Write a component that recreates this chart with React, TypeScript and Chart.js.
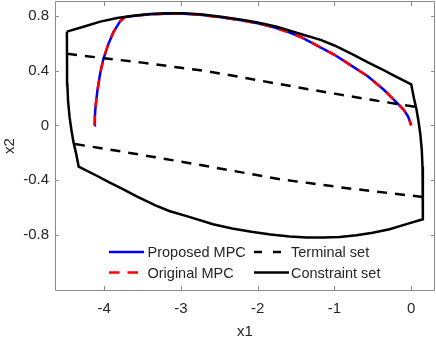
import React, { useEffect, useRef } from "react";
import { Chart, registerables } from "chart.js";

Chart.register(...registerables);

// ---------- data ----------
const xTicks = [-4, -3, -2, -1, 0];
const yTicks = [-0.8, -0.4, 0, 0.4, 0.8];
const xLimits = [-4.64, 0.31];
const yLimits = [-1.2, 0.9];

const legendLabels = ["Proposed MPC", "Original MPC", "Terminal set", "Constraint set"];

// Constraint set (closed boundary): top, right side, bottom, left side
const constraintX = [
  -4.485, -4.27, -4.05, -3.83, -3.62, -3.4, -3.19, -2.97, -2.75, -2.5, -2.25, -2.0, -1.75, -1.44, -1.18, -1.0, -0.75, -0.57, -0.4, -0.23, 0.0,
  0.035, 0.068, 0.095, 0.118, 0.138, 0.147, 0.151, 0.153,
  -0.062, -0.282, -0.502, -0.712, -0.932, -1.142, -1.362, -1.582, -1.832, -2.082, -2.332, -2.582, -2.892, -3.152, -3.332, -3.582, -3.762, -3.932, -4.102, -4.332,
  -4.367, -4.4, -4.427, -4.45, -4.47, -4.479, -4.483, -4.485,
];
const constraintY = [
  0.684, 0.72, 0.757, 0.783, 0.8, 0.813, 0.818, 0.818, 0.81, 0.795, 0.775, 0.751, 0.72, 0.667, 0.624, 0.583, 0.515, 0.462, 0.415, 0.365, 0.3,
  0.2, 0.12, 0.03, -0.06, -0.18, -0.3, -0.45, -0.684,
  -0.72, -0.757, -0.783, -0.8, -0.813, -0.818, -0.818, -0.81, -0.795, -0.775, -0.751, -0.72, -0.667, -0.624, -0.583, -0.515, -0.462, -0.415, -0.365, -0.3,
  -0.2, -0.12, -0.03, 0.06, 0.18, 0.3, 0.45, 0.684,
];

// Terminal set (two dashed edges)
const terminalUpperX = [-4.483, -4.0, -3.5, -3.0, -2.66, -2.0, -1.5, -1.0, -0.5, 0.055];
const terminalUpperY = [0.522, 0.49, 0.458, 0.42, 0.396, 0.33, 0.28, 0.232, 0.185, 0.135];
const terminalLowerX = [0.151, -0.332, -0.832, -1.332, -1.672, -2.332, -2.832, -3.332, -3.832, -4.387];
const terminalLowerY = [-0.522, -0.49, -0.458, -0.42, -0.396, -0.33, -0.28, -0.232, -0.185, -0.135];

// Closed-loop trajectories
const proposedX = [-4.126, -4.12, -4.112, -4.087, -4.052, -4.009, -3.944, -3.879, -3.792, -3.727, -3.6, -3.4, -3.19, -2.97, -2.75, -2.5, -2.25, -2.0, -1.79, -1.6, -1.44, -1.2, -1.0, -0.79, -0.57, -0.36, -0.185, -0.1, -0.04, 0.0];
const proposedY = [0.0, 0.07, 0.135, 0.256, 0.378, 0.486, 0.595, 0.68, 0.759, 0.79, 0.8, 0.81, 0.815, 0.815, 0.807, 0.79, 0.77, 0.745, 0.715, 0.68, 0.645, 0.575, 0.515, 0.44, 0.36, 0.262, 0.165, 0.115, 0.065, 0.0];
const originalX = [-4.126, -4.12, -4.112, -4.087, -4.052, -4.009, -3.944, -3.879, -3.792, -3.727, -3.6, -3.4, -3.19, -2.97, -2.75, -2.5, -2.25, -2.0, -1.79, -1.6, -1.44, -1.2, -1.0, -0.79, -0.57, -0.36, -0.185, -0.1, -0.04, 0.0];
const originalY = [0.0, 0.07, 0.135, 0.256, 0.378, 0.486, 0.595, 0.68, 0.759, 0.79, 0.8, 0.81, 0.815, 0.815, 0.807, 0.79, 0.77, 0.745, 0.715, 0.68, 0.645, 0.575, 0.515, 0.44, 0.36, 0.262, 0.165, 0.115, 0.065, 0.0];

// ---------- helpers ----------
const FONT = '"Liberation Sans", Arial, Helvetica, sans-serif';
const TEXT = "#262626";
const AXIS = "#8a8a8a";

const pts = (xs: number[], ys: number[]) => xs.map((x, i) => ({ x, y: ys[i] }));

const framePlugin = {
  id: "matlabFrame",
  afterDatasetsDraw(chart: any) {
    const { ctx, chartArea: a, scales } = chart;
    ctx.save();
    ctx.strokeStyle = AXIS;
    ctx.lineWidth = 1;
    ctx.beginPath();
    ctx.rect(a.left + 0.5, a.top - 0.5, a.right - a.left - 1, a.bottom - a.top + 1);
    const tl = 4;
    for (const v of xTicks) {
      const px = Math.round(scales.x.getPixelForValue(v)) + 0.5;
      ctx.moveTo(px, a.bottom);
      ctx.lineTo(px, a.bottom - tl);
      ctx.moveTo(px, a.top);
      ctx.lineTo(px, a.top + tl);
    }
    for (const v of yTicks) {
      const py = Math.round(scales.y.getPixelForValue(v)) + 0.5;
      ctx.moveTo(a.left, py);
      ctx.lineTo(a.left + tl, py);
      ctx.moveTo(a.right, py);
      ctx.lineTo(a.right - tl, py);
    }
    ctx.stroke();

    // legend (inside axes, two columns, no box)
    const row1 = a.top + 250;
    const row2 = a.top + 270.5;
    const col1 = a.left + 54;
    const col2 = a.left + 199;
    const len = 35;
    const drawSample = (x: number, y: number, color: string, dash: number[]) => {
      ctx.beginPath();
      ctx.setLineDash(dash);
      ctx.strokeStyle = color;
      ctx.lineWidth = 2.5;
      ctx.moveTo(x, y);
      ctx.lineTo(x + len, y);
      ctx.stroke();
      ctx.setLineDash([]);
    };
    drawSample(col1, row1, "#0000ff", []);
    drawSample(col1, row2, "#ff0000", [10.5, 8]);
    drawSample(col2, row1, "#000000", [8, 11]);
    drawSample(col2, row2, "#000000", []);
    ctx.fillStyle = TEXT;
    ctx.font = `14.5px ${FONT}`;
    ctx.textBaseline = "middle";
    ctx.textAlign = "left";
    ctx.fillText(legendLabels[0], col1 + len + 3.5, row1 + 1);
    ctx.fillText(legendLabels[1], col1 + len + 3.5, row2 + 1);
    ctx.fillText(legendLabels[2], col2 + len + 2, row1 + 1);
    ctx.fillText(legendLabels[3], col2 + len + 2, row2 + 1);
    ctx.restore();
  },
};

export default function App() {
  const canvasRef = useRef<HTMLCanvasElement | null>(null);

  useEffect(() => {
    document.body.style.margin = "0";
    const canvas = canvasRef.current;
    if (!canvas) return;
    const common = { pointRadius: 0, pointHoverRadius: 0, fill: false, tension: 0, borderWidth: 2.5 };
    const chart = new Chart(canvas, {
      type: "line",
      data: {
        datasets: [
          { ...common, label: legendLabels[3], data: pts(constraintX, constraintY), borderColor: "#000000", order: 0 },
          { ...common, label: legendLabels[2], data: pts(terminalUpperX, terminalUpperY), borderColor: "#000000", borderDash: [10, 8], order: 1 },
          { ...common, label: legendLabels[2], data: pts(terminalLowerX, terminalLowerY), borderColor: "#000000", borderDash: [10, 8], order: 1 },
          { ...common, label: legendLabels[1], data: pts(originalX, originalY), borderColor: "#ff0000", borderDash: [10, 8], order: 2 },
          { ...common, label: legendLabels[0], data: pts(proposedX, proposedY), borderColor: "#0000ff", order: 3 },
        ],
      } as any,
      options: {
        animation: false,
        responsive: false,
        devicePixelRatio: 1,
        events: [],
        layout: { padding: { top: 2, right: 1, bottom: 0, left: 0 } },
        plugins: { legend: { display: false }, tooltip: { enabled: false }, title: { display: false } },
        scales: {
          x: {
            type: "linear",
            min: xLimits[0],
            max: xLimits[1],
            afterBuildTicks: (s: any) => {
              s.ticks = xTicks.map((v) => ({ value: v }));
            },
            afterFit: (s: any) => {
              s.height = 47;
              s.paddingLeft = 0;
              s.paddingRight = 0;
            },
            grid: { display: false, drawTicks: false },
            border: { display: false },
            ticks: {
              color: TEXT,
              font: { family: FONT, size: 15 },
              padding: 10,
              maxRotation: 0,
              autoSkip: false,
              callback: (v: any) => String(v),
            },
            title: {
              display: true,
              text: "x1",
              color: TEXT,
              font: { family: FONT, size: 15, lineHeight: "11px" },
              padding: 0,
            },
          },
          y: {
            type: "linear",
            min: yLimits[0],
            max: yLimits[1],
            afterBuildTicks: (s: any) => {
              s.ticks = yTicks.map((v) => ({ value: v }));
            },
            afterFit: (s: any) => {
              s.width = 55;
              s.paddingTop = 0;
              s.paddingBottom = 0;
            },
            grid: { display: false, drawTicks: false },
            border: { display: false },
            ticks: {
              color: TEXT,
              font: { family: FONT, size: 15 },
              padding: 6,
              autoSkip: false,
              callback: (v: any) => String(v),
            },
            title: {
              display: true,
              text: "x2",
              color: TEXT,
              font: { family: FONT, size: 15 },
              padding: { top: 1, bottom: 0 },
            },
          },
        },
      } as any,
      plugins: [framePlugin],
    });
    return () => chart.destroy();
  }, []);

  return <canvas ref={canvasRef} width={436} height={337} style={{ display: "block" }} />;
}
